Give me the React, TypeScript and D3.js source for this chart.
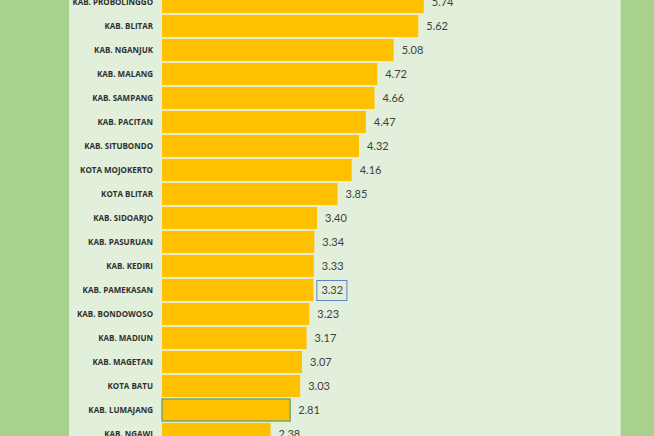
import React, { useEffect, useRef } from 'react';
import * as d3 from 'd3';

// regencies / cities, in ranked order (top of list is cut off by the panel)
const regions = [
  'KAB. PROBOLINGGO',
  'KAB. BLITAR',
  'KAB. NGANJUK',
  'KAB. MALANG',
  'KAB. SAMPANG',
  'KAB. PACITAN',
  'KAB. SITUBONDO',
  'KOTA MOJOKERTO',
  'KOTA BLITAR',
  'KAB. SIDOARJO',
  'KAB. PASURUAN',
  'KAB. KEDIRI',
  'KAB. PAMEKASAN',
  'KAB. BONDOWOSO',
  'KAB. MADIUN',
  'KAB. MAGETAN',
  'KOTA BATU',
  'KAB. LUMAJANG',
  'KAB. NGAWI',
];

const values = [
  5.74, 5.62, 5.08, 4.72, 4.66, 4.47, 4.32, 4.16, 3.85, 3.4, 3.34, 3.33, 3.32,
  3.23, 3.17, 3.07, 3.03, 2.81, 2.38,
];

const boxedLabel = 'KAB. PAMEKASAN';
const outlinedBar = 'KAB. LUMAJANG';

const App: React.FC = () => {
  const svgRef = useRef<SVGSVGElement | null>(null);

  useEffect(() => {
    if (!svgRef.current) return;

    const width = 654;
    const height = 436;
    const panel = { left: 69, right: 620 };

    const svg = d3.select(svgRef.current).attr('width', width).attr('height', height);
    svg.selectAll('*').remove();

    // outer frame and inner plot panel
    svg.append('rect').attr('width', width).attr('height', height).attr('fill', '#a9d18e');
    svg
      .append('rect')
      .attr('x', panel.left)
      .attr('width', panel.right - panel.left)
      .attr('height', height)
      .attr('fill', '#e2efda');
    svg
      .append('line')
      .attr('x1', panel.right + 0.5)
      .attr('x2', panel.right + 0.5)
      .attr('y1', 0)
      .attr('y2', height)
      .attr('stroke', '#cfe4c0');

    const data = regions.map((r, i) => ({ region: r, value: values[i] }));

    const x = d3.scaleLinear().domain([0, 6]).range([162, 162 + 6 * 45.6]);
    const y = d3
      .scaleBand()
      .domain(regions)
      .range([-10, -10 + regions.length * 24])
      .paddingInner(0.08)
      .paddingOuter(0.04);

    const rows = svg
      .selectAll('g.row')
      .data(data)
      .enter()
      .append('g')
      .attr('class', 'row');

    rows
      .append('rect')
      .attr('x', x(0))
      .attr('y', (d) => y(d.region)!)
      .attr('width', (d) => x(d.value) - x(0))
      .attr('height', y.bandwidth())
      .attr('fill', '#ffc000')
      .attr('stroke', (d) => (d.region === outlinedBar ? '#5f9a6e' : 'none'))
      .attr('stroke-width', 1.2);

    rows
      .append('text')
      .attr('x', 153)
      .attr('y', (d) => y(d.region)! + y.bandwidth() / 2)
      .attr('dy', '0.35em')
      .attr('text-anchor', 'end')
      .attr('font-family', 'Open Sans, sans-serif')
      .attr('font-size', 8)
      .attr('font-weight', 700)
      .attr('fill', '#2f2f2f')
      .text((d) => d.region);

    rows
      .append('text')
      .attr('x', (d) => x(d.value) + 8)
      .attr('y', (d) => y(d.region)! + y.bandwidth() / 2)
      .attr('dy', '0.35em')
      .attr('font-family', 'Lato, sans-serif')
      .attr('font-size', 11)
      .attr('fill', '#404040')
      .text((d) => d.value.toFixed(2));

    // selection box around one data label
    const boxed = data.find((d) => d.region === boxedLabel)!;
    svg
      .append('rect')
      .attr('x', x(boxed.value) + 3.5)
      .attr('y', y(boxed.region)! + y.bandwidth() / 2 - 9.5)
      .attr('width', 30)
      .attr('height', 20)
      .attr('fill', 'none')
      .attr('stroke', '#5b87c5')
      .attr('stroke-width', 1);
  }, []);

  return <svg ref={svgRef} style={{ position: 'absolute', left: 0, top: 0 }}></svg>;
};

export default App;
